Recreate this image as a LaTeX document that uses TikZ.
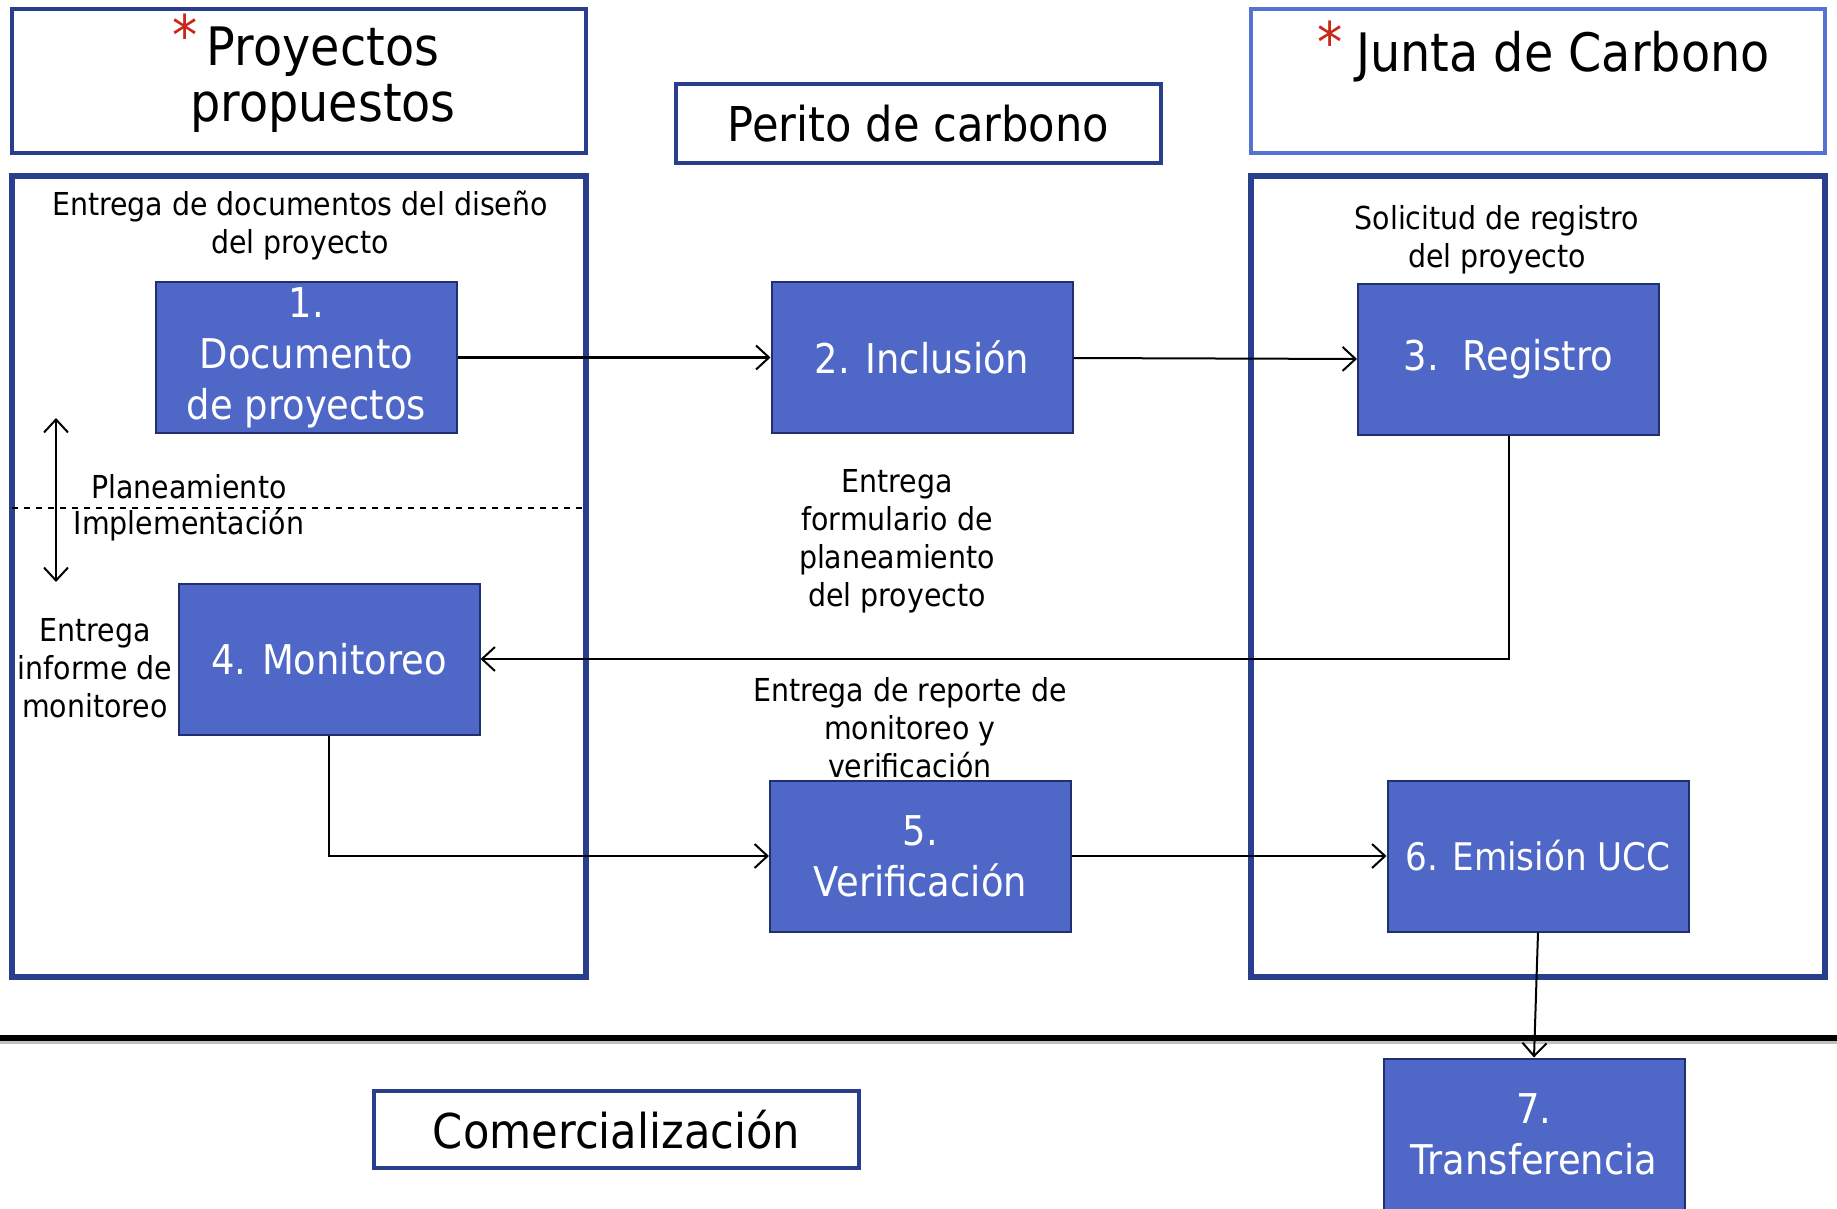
\documentclass[tikz,border=0pt]{standalone}
\usepackage{fontspec}
\setmainfont{DejaVu Sans}[FakeStretch=0.9]
\usepackage{tikz}
\usetikzlibrary{arrows.meta}
\definecolor{boxfill}{RGB}{79,104,200}
\definecolor{boxline}{RGB}{32,48,110}
\definecolor{framecol}{RGB}{42,62,142}
\definecolor{lightframe}{RGB}{86,114,210}
\definecolor{starred}{RGB}{200,40,25}
\newcommand{\notefont}{\fontsize{15.8}{19}\selectfont}
\newcommand{\boxfont}{\fontsize{20.5}{25.5}\selectfont}
\newcommand{\titlefont}{\fontsize{26.5}{28}\selectfont}
\newcommand{\headfont}{\fontsize{24}{28}\selectfont}
\tikzset{
  lanebox/.style = {draw=framecol, line width=2.8pt, minimum width=287pt,
    inner sep=0pt},
  headbox/.style = {draw=framecol, line width=2.2pt, inner sep=0pt},
  stepbox/.style = {draw=boxline, fill=boxfill, line width=1pt, text=white,
    align=center, minimum width=150.5pt, minimum height=75.5pt,
    inner sep=0pt, font=\boxfont},
  note/.style = {align=center, inner sep=0pt, font=\notefont},
  headtext/.style = {align=center, inner sep=0pt, font=\titlefont},
  redstar/.style = {text=starred, inner sep=0pt, font=\fontsize{28}{28}\selectfont}
}

\begin{document}
\begin{tikzpicture}[x=0.5pt, y=-0.5pt, ->, >={Straight Barb[length=6.5pt,width=12pt]},
  line width=1pt]
\useasboundingbox (0,0) rectangle (1837,1209);
% frames
\node [headbox, minimum width=287pt, minimum height=72pt] (propHead) at (299,81) {};
\node [lanebox, minimum height=400.5pt] (propLane) at (299,576.5) {};
\node [headbox, draw=lightframe, minimum width=287pt, minimum height=72pt] (juntaHead) at (1538,81) {};
\node [lanebox, minimum height=400.5pt] (juntaLane) at (1538,576.5) {};
\node [headbox, minimum width=242.5pt, minimum height=39.5pt, font=\headfont] (perito) at (918.5,123.5) {Perito de carbono};
\node [headbox, minimum width=242.5pt, minimum height=38.5pt, font=\headfont] (comerc) at (616.5,1129.5) {Comercialización};
% titles
\node [headtext] (propTitle) at (323,80) {Proyectos\\propuestos};
\node [redstar] (propStar) at (185,35) {*};
\node [headtext] (juntaTitle) at (1563,57) {Junta de Carbono};
\node [redstar] (juntaStar) at (1330,42) {*};
% steps
\node [stepbox] (doc) at (306.5,357.5) {1.\\Documento\\de proyectos};
\node [stepbox] (incl) at (922,357.5) {2. Inclusión};
\node [stepbox] (reg) at (1508.5,359.5) {3.\ \ Registro};
\node [stepbox] (monit) at (329,659) {4. Monitoreo};
\node [stepbox] (verif) at (920.5,856) {5.\\Verificación};
\node [stepbox, font=\fontsize{19}{25.5}\selectfont] (emis) at (1538,856) {6. Emisión UCC};
\node [stepbox] (transf) at (1534,1134) {7.\\Transferencia};
% notes
\node [note] (nDoc) at (300,226) {Entrega de documentos del diseño\\del proyecto};
\node [note] (nReg) at (1497,240) {Solicitud de registro\\del proyecto};
\node [note] (nForm) at (897,541) {Entrega\\formulario de\\planeamiento\\del proyecto};
\node [note] (nRep) at (910,728) {Entrega de reporte de\\monitoreo y\\verificación};
\node [note] (nInf) at (95,668) {Entrega\\informe de\\monitoreo};
\node [note] (nPlan) at (189,487) {Planeamiento};
\node [note] (nImpl) at (189,525) {Implementación};
% phase marks
\coordinate (phaseTop) at (56,418);
\coordinate (phaseBot) at (56,582);
\coordinate (dashL) at (12,508);
\coordinate (dashR) at (582,508);
\coordinate (sepL) at (0,1038);
\coordinate (sepR) at (1837,1038);
\draw [<->] (phaseTop) -- (phaseBot);
\draw [-, dashed, line width=0.8pt] (dashL) -- (dashR);
\draw [-, black!25, line width=2.5pt] ([yshift=-1.8pt]sepL) -- ([yshift=-1.8pt]sepR);
\draw [-, line width=2.8pt] (sepL) -- (sepR);
% connectors
\draw (doc) -- (incl);
\draw (incl) -- (reg);
\draw (reg.south) |- (monit.east);
\draw (monit.south) |- (verif.west);
\draw (verif) -- (emis);
\draw (emis.south) -- (transf.north);
\end{tikzpicture}
\end{document}
